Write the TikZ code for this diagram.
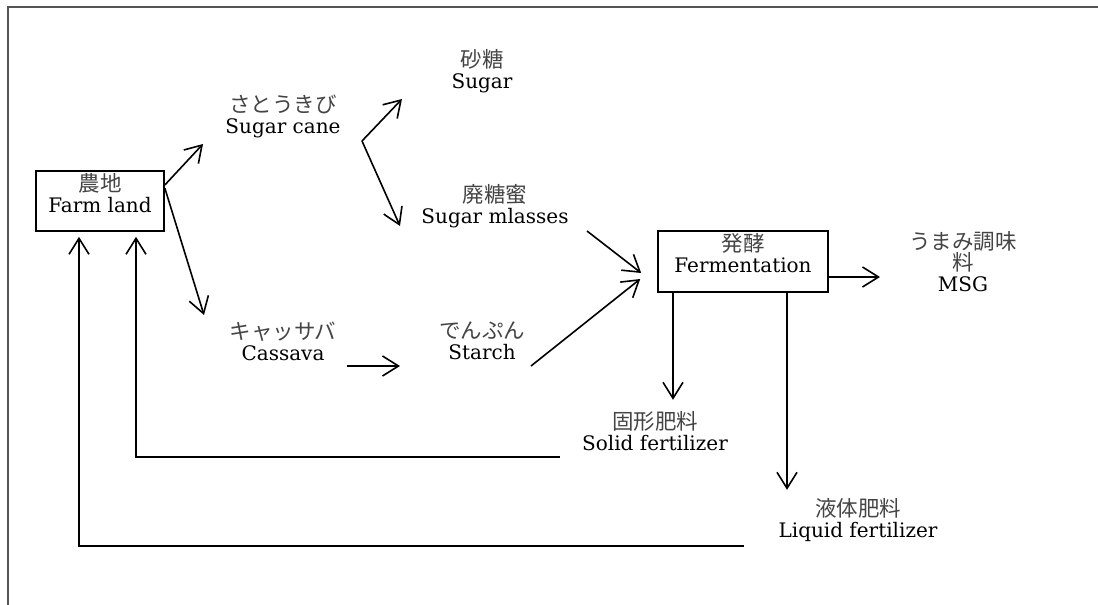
\documentclass[tikz,border=0pt]{standalone}
\usepackage{fontspec}
\setmainfont{DejaVu Serif}
\newfontfamily\jp{Noto Sans CJK JP}
\usetikzlibrary{arrows.meta}
\definecolor{jpcol}{HTML}{444444}
\definecolor{framecol}{HTML}{555555}
\newcommand{\J}[1]{{\jp\fontsize{21.5}{21}\selectfont\color{jpcol}#1}}
\tikzset{
  arr/.style={-{Straight Barb[length=16pt,width=20pt]}, line width=1.6pt},
  ln/.style={line width=1.6pt},
  lbl/.style={align=center, inner sep=0pt, font=\fontsize{20}{21}\selectfont},
  boxnode/.style={draw, line width=1.6pt, inner sep=0pt}
}
\begin{document}
\begin{tikzpicture}[x=1pt,y=-1pt]
\useasboundingbox (0,0) rectangle (1098,605);
% frame
\draw[framecol, line width=1.5pt] (1098,7) -- (8,7) -- (8,605);

% boxes
\node[boxnode, minimum width=128pt, minimum height=60pt] (farm) at (100,201) {};
\node[lbl] (farmtxt) at (100,193) {\J{農地}\\Farm land};
\node[boxnode, minimum width=170pt, minimum height=61pt] (ferm) at (743,261.5) {};
\node[lbl] (fermtxt) at (743,253) {\J{発酵}\\Fermentation};

% labels
\node[lbl] (cane) at (283,116) {\J{さとうきび}\\Sugar cane};
\node[lbl] (sugar) at (482,71) {\J{砂糖}\\Sugar};
\node[lbl] (mlass) at (495,206) {\J{廃糖蜜}\\Sugar mlasses};
\node[lbl] (cassava) at (283,341) {\J{キャッサバ}\\Cassava};
\node[lbl] (starch) at (482,341) {\J{でんぷん}\\Starch};
\node[lbl] (msg) at (963,262) {\J{うまみ調味}\\\J{料}\\MSG};
\node[lbl] (solid) at (655,431) {\J{固形肥料}\\Solid fertilizer};
\node[lbl] (liquid) at (858,520) {\J{液体肥料}\\Liquid fertilizer};

% free ends
\coordinate (caneIn) at (203,144);
\coordinate (cassIn) at (204,315);
\coordinate (caneOut) at (362,141);
\coordinate (sugarIn) at (402,99);
\coordinate (mlassIn) at (400,226);
\coordinate (mlassOut) at (587,231);
\coordinate (starchOut) at (531,366);
\coordinate (cassOut) at (347,366);
\coordinate (starchIn) at (400,366);
\coordinate (msgIn) at (880,277);
\coordinate (solidRet) at (560,457);
\coordinate (liquidRet) at (744,546);

% connectors
\draw[arr] ([yshift=16pt]farm.east) -- (caneIn);
\draw[arr] ([yshift=13pt]farm.east) -- (cassIn);
\draw[arr] (caneOut) -- (sugarIn);
\draw[arr] (caneOut) -- (mlassIn);
\draw[arr] (mlassOut) -- ([xshift=-16pt,yshift=-11.5pt]ferm.west);
\draw[arr] (starchOut) -- ([xshift=-17pt,yshift=-17.5pt]ferm.west);
\draw[arr] (cassOut) -- (starchIn);
\draw[arr] ([yshift=-15.5pt]ferm.east) -- (msgIn);
\draw[arr] ([xshift=-70pt]ferm.south) -- ++(0,107);
\draw[arr] ([xshift=44pt]ferm.south) -- ++(0,197);
\draw[arr] (solidRet) -| ([xshift=36pt,yshift=-5pt]farm.south);
\draw[arr] (liquidRet) -| ([xshift=-21pt,yshift=-5pt]farm.south);
\end{tikzpicture}
\end{document}
